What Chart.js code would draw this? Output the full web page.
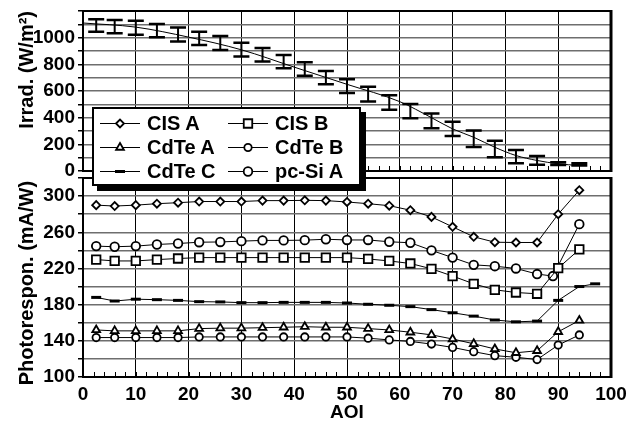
<!DOCTYPE html>
<html>
<head>
<meta charset="utf-8">
<script src="https://cdn.jsdelivr.net/npm/chart.js@4.4.1/dist/chart.umd.min.js"></script>
<style>
html, body { margin: 0; padding: 0; background: #fff; }
#wrap { position: relative; width: 630px; height: 426px; overflow: hidden; }
#top { position: absolute; left: 0; top: 0; }
#bot { position: absolute; left: 0; top: 170px; }
#legend {
    position: absolute; left: 92px; top: 107px; width: 265px; height: 73px;
    border: 2px solid #000; background: #fff; box-shadow: 5px 5px 0 #000;
    display: grid; grid-template-columns: 128px 137px; grid-auto-rows: 24px;
    padding-top: 2px; font: bold 20px 'Liberation Sans', Arial, sans-serif;
}
.item { display: flex; align-items: center; padding-left: 6px; white-space: nowrap; }
.item canvas { margin-right: 7px; }
</style>
</head>
<body>
<div id="wrap">
    <canvas id="top" width="630" height="183"></canvas>
    <canvas id="bot" width="630" height="256"></canvas>
    <div id="legend"></div>
</div>
<script>
// angle of incidence for the measured points
const aoi = [2.5, 6, 10, 14, 18, 22, 26, 30, 34, 38, 42, 46, 50, 54, 58, 62, 66, 70, 74, 78, 82, 86, 90, 94];
const aoiPcSi = [2.5, 6, 10, 14, 18, 22, 26, 30, 34, 38, 42, 46, 50, 54, 58, 62, 66, 70, 74, 78, 82, 86, 89, 94];
const aoiCdTeC = [2.5, 6, 10, 14, 18, 22, 26, 30, 34, 38, 42, 46, 50, 54, 58, 62, 66, 70, 74, 78, 82, 86, 90, 94, 97];

// photoresponse (mA/W)
const cisA = [290, 289, 290, 291.6, 292.7, 294, 294, 294, 295, 295, 295.3, 295, 293.5, 291.6, 289.4, 284.4, 277, 266, 255, 249, 248.7, 248.7, 280, 306.5];
const cisB = [229.8, 228.3, 228.3, 229.8, 231, 232, 232, 232, 232, 232, 232, 232, 232, 230.5, 228.3, 225.5, 219.6, 211.6, 203, 196.4, 193.4, 192, 220.4, 241];
const cdteA = [152, 151, 151, 151, 151, 153.5, 154, 154, 154.5, 155, 155.6, 155, 155, 153.5, 152, 149.5, 146.6, 142, 136.7, 131, 126.8, 129, 150, 162.5];
const cdteB = [143.6, 143.6, 143.6, 143.6, 143.6, 144.3, 144.3, 144.3, 144.3, 144.3, 144.3, 144.3, 144.3, 142.9, 141, 139.3, 136.4, 132.7, 128, 123.6, 121.8, 119.3, 135.3, 146.5];
const cdteC = [188, 184, 186, 185.5, 184.7, 183.3, 183, 182.2, 182.2, 182.5, 182.5, 182.5, 181.8, 180.4, 179.3, 177.8, 174.5, 171, 167.3, 163, 161, 161.8, 184.7, 200, 203];
const pcSiA = [244.7, 244, 244.7, 246.5, 247.6, 249, 249.3, 250.2, 251, 251, 251.3, 252.3, 251.5, 251.5, 249.5, 248.4, 240, 232, 224, 222.5, 220, 213.8, 211.6, 269];

// irradiance (W/m2): measured with error bars, plus model curve
const irrMean = [1091, 1083, 1074, 1053, 1024, 995, 960, 910, 872, 820, 765, 700, 637, 576, 514, 449, 376, 316, 242, 165, 108, 80, 55, 50];
const irrErr = [47, 50, 52, 50, 52, 50, 52, 52, 50, 50, 50, 50, 52, 55, 55, 54, 56, 54, 62, 62, 50, 33, 10, 8];
const modelAoi = [0, 10, 20, 30, 40, 50, 60, 66, 70, 74, 78, 82, 86, 90, 94];
const modelIrr = [1110, 1079, 1004, 909, 779, 650, 520, 400, 316, 253, 178, 116, 79, 54, 41];

const xTicks = { min: 0, max: 100, step: 10 };

Chart.defaults.font.family = "'Liberation Sans', Arial, sans-serif";
Chart.defaults.font.size = 19;
Chart.defaults.font.weight = 'bold';
Chart.defaults.color = '#000';
Chart.defaults.animation = false;

const pts = (xs, ys) => ys.map((y, i) => ({ x: xs[i], y: y }));

// box round the plot area
const frame = {
    id: 'frame',
    afterDraw(chart) {
        const { ctx, chartArea: a } = chart;
        ctx.save();
        ctx.strokeStyle = '#000';
        ctx.lineWidth = 2;
        ctx.strokeRect(a.left, a.top, a.right - a.left, a.bottom - a.top);
        ctx.lineWidth = 3;
        ctx.beginPath(); ctx.moveTo(a.right, a.top - 1); ctx.lineTo(a.right, a.bottom + 1); ctx.stroke();
        ctx.restore();
    }
};

// small inside ticks on the x axis every 2 units
const minorTicks = {
    id: 'minorTicks',
    beforeDatasetsDraw(chart) {
        const { ctx, chartArea: a, scales } = chart;
        ctx.save();
        ctx.strokeStyle = '#000';
        ctx.lineWidth = 1;
        ctx.beginPath();
        for (let v = xTicks.min; v <= xTicks.max; v += 2) {
            const x = Math.round(scales.x.getPixelForValue(v)) + 0.5;
            ctx.moveTo(x, a.bottom);
            ctx.lineTo(x, a.bottom - 5);
        }
        ctx.stroke();
        ctx.restore();
    }
};

const errorBars = {
    id: 'errorBars',
    afterDatasetsDraw(chart) {
        const { ctx, scales } = chart;
        ctx.save();
        ctx.strokeStyle = '#000';
        irrMean.forEach((m, i) => {
            const x = scales.x.getPixelForValue(aoi[i]);
            const y1 = scales.y.getPixelForValue(m + irrErr[i]);
            const y2 = scales.y.getPixelForValue(m - irrErr[i]);
            ctx.lineWidth = 2;
            ctx.beginPath();
            ctx.moveTo(x, y1); ctx.lineTo(x, y2);
            ctx.stroke();
            ctx.lineWidth = 2.5;
            ctx.beginPath();
            ctx.moveTo(x - 8, y1); ctx.lineTo(x + 8, y1);
            ctx.moveTo(x - 8, y2); ctx.lineTo(x + 8, y2);
            ctx.stroke();
        });
        ctx.restore();
    }
};

function yAxis(min, max, step, labelStep, title, align) {
    return {
        min: min, max: max,
        afterFit(s) { s.width = 83; s.paddingTop = 0; s.paddingBottom = 0; },
        ticks: {
            stepSize: step, autoSkip: false, padding: 3,
            callback: v => ((v - min) % labelStep === 0 && v < max) ? v : ''
        },
        grid: { color: '#6e6e6e', lineWidth: 1.5, tickLength: 5, tickColor: '#000' },
        border: { color: '#000', width: 2 },
        title: { display: true, text: title, align: align, font: { size: 20 }, padding: { top: 15, bottom: 0 } }
    };
}

const topChart = new Chart(document.getElementById('top'), {
    type: 'scatter',
    data: {
        datasets: [{
            label: 'model',
            data: pts(modelAoi, modelIrr),
            showLine: true,
            borderColor: '#000',
            borderWidth: 1,
            pointRadius: 0,
            cubicInterpolationMode: 'monotone'
        }]
    },
    options: {
        responsive: false,
        layout: { padding: { top: 11, left: 0, right: 19, bottom: 0 } },
        plugins: { legend: { display: false }, tooltip: { enabled: false } },
        scales: {
            x: {
                min: xTicks.min, max: xTicks.max,
                afterFit(s) { s.height = 12; s.paddingLeft = 0; s.paddingRight = 0; },
                ticks: { stepSize: xTicks.step, display: false },
                grid: { color: '#000', lineWidth: 1, drawTicks: false },
                border: { color: '#000', width: 2 }
            },
            y: yAxis(0, 1200, 100, 200, 'Irrad. (W/m²)', 'end')
        }
    },
    plugins: [minorTicks, errorBars, frame]
});

const series = [
    { label: 'CIS A', xs: aoi, ys: cisA, style: 'rectRot', r: 4, bw: 1.8 },
    { label: 'CIS B', xs: aoi, ys: cisB, style: 'rect', r: 6, bw: 1.8 },
    { label: 'CdTe A', xs: aoi, ys: cdteA, style: 'triangle', r: 4.5, bw: 1.8 },
    { label: 'CdTe B', xs: aoi, ys: cdteB, style: 'circle', r: 3.7, bw: 1.8 },
    { label: 'CdTe C', xs: aoiCdTeC, ys: cdteC, style: 'line', r: 5, bw: 3 },
    { label: 'pc-Si A', xs: aoiPcSi, ys: pcSiA, style: 'circle', r: 4.3, bw: 1.8 }
];

const botChart = new Chart(document.getElementById('bot'), {
    type: 'scatter',
    data: {
        datasets: series.map(s => ({
            label: s.label,
            data: pts(s.xs, s.ys),
            showLine: true,
            borderColor: '#000',
            borderWidth: 1,
            pointStyle: s.style,
            pointRadius: s.r,
            pointBorderWidth: s.bw,
            pointBorderColor: '#000',
            pointBackgroundColor: '#fff'
        }))
    },
    options: {
        responsive: false,
        layout: { padding: { top: 6, left: 0, right: 19, bottom: 0 } },
        plugins: { legend: { display: false }, tooltip: { enabled: false } },
        scales: {
            x: {
                min: xTicks.min, max: xTicks.max,
                afterFit(s) { s.height = 49; s.paddingLeft = 0; s.paddingRight = 0; },
                ticks: { stepSize: xTicks.step, padding: 6, maxRotation: 0 },
                grid: { color: '#000', lineWidth: 1, drawTicks: false },
                border: { color: '#000', width: 2 },
                title: { display: true, text: 'AOI', padding: { top: 0, bottom: 2 } }
            },
            y: yAxis(100, 320, 20, 40, 'Photorespon. (mA/W)  ', 'center')
        }
    },
    plugins: [minorTicks, frame]
});

// legend as html, markers drawn with Chart.js point helper
const legend = document.getElementById('legend');
botChart.data.datasets.forEach(ds => {
    const item = document.createElement('div');
    item.className = 'item';
    const c = document.createElement('canvas');
    c.width = 40; c.height = 20;
    const ctx = c.getContext('2d');
    ctx.strokeStyle = '#000';
    ctx.lineWidth = 1;
    ctx.beginPath(); ctx.moveTo(0, 10.5); ctx.lineTo(40, 10.5); ctx.stroke();
    ctx.fillStyle = '#fff';
    ctx.lineWidth = ds.pointBorderWidth;
    Chart.helpers.drawPoint(ctx, { pointStyle: ds.pointStyle, radius: ds.pointRadius, borderWidth: ds.pointBorderWidth, rotation: 0 }, 20, 10.5);
    item.appendChild(c);
    const t = document.createElement('span');
    t.textContent = ds.label;
    item.appendChild(t);
    legend.appendChild(item);
});
</script>
</body>
</html>
